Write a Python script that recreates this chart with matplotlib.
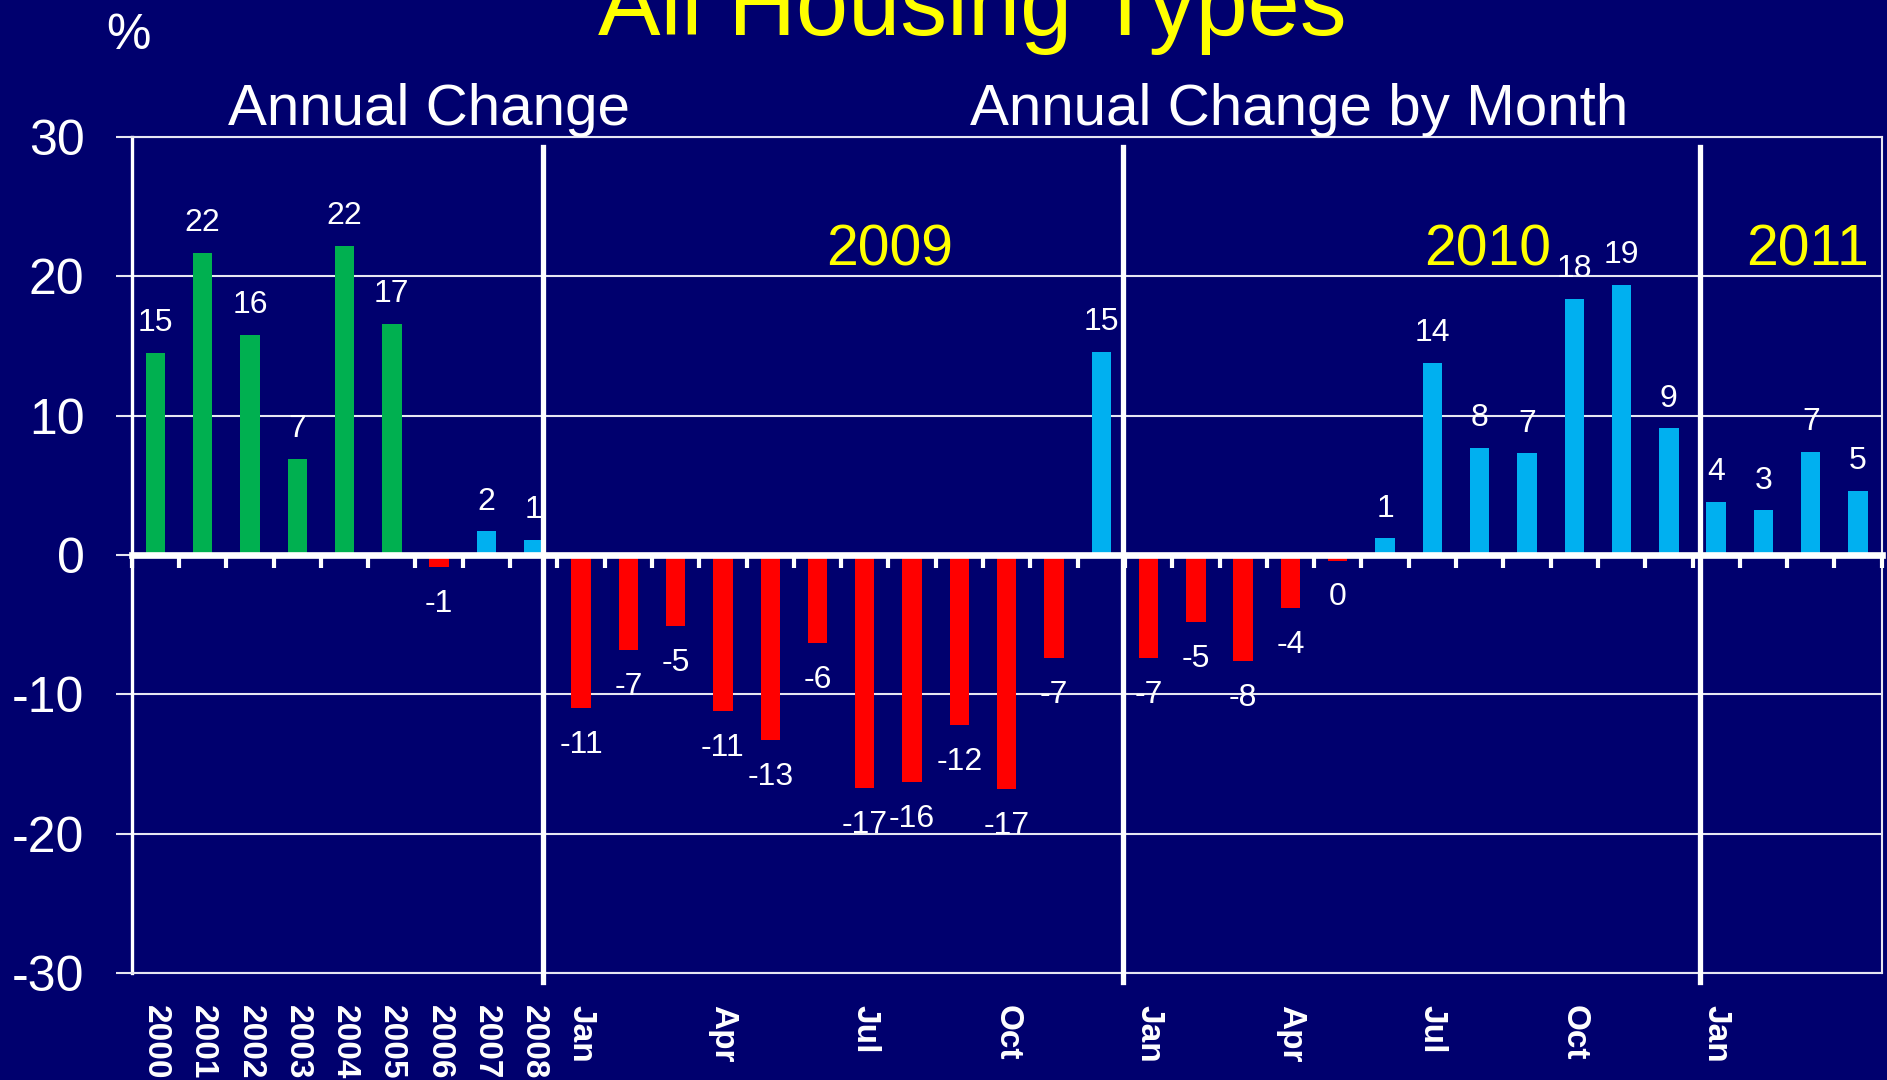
"""
All Housing Types - annual change and annual change by month (%)
"""

import numpy as np
import matplotlib
matplotlib.use('Agg')
import matplotlib.pyplot as plt

## Data
annual_years = ['2000', '2001', '2002', '2003', '2004', '2005', '2006', '2007', '2008']
annual_change = [14.52, 21.7, 15.8, 6.9, 22.2, 16.6, -0.85, 1.7, 1.1]

month_labels = ['Jan', '', '', 'Apr', '', '', 'Jul', '', '', 'Oct', '', '']
month_labels_2011 = ['Jan', '', '', '']
change_2009 = [-11.0, -6.8, -5.1, -11.2, -13.3, -6.3, -16.7, -16.3, -12.2, -16.8, -7.4, 14.6]
change_2010 = [-7.4, -4.8, -7.6, -3.8, -0.4, 1.2, 13.8, 7.7, 7.3, 18.4, 19.4, 9.1]
change_2011 = [3.8, 3.2, 7.4, 4.6]

year_tags = ['2009', '2010', '2011']

## Colours
BG = '#00006e'
GREEN = '#00b050'
BLUE = '#00b0f0'
RED = '#ff0000'
YELLOW = '#ffff00'
GRID = '#e6e6f2'

plt.rcParams['font.family'] = ['Liberation Sans', 'DejaVu Sans']
plt.rcParams['axes.unicode_minus'] = False

values = annual_change + change_2009 + change_2010 + change_2011
labels = annual_years + month_labels + month_labels + month_labels_2011
x = np.arange(len(values))

# green for the boom years, red for falls, blue otherwise
colors = []
for i, v in enumerate(values):
    if v < 0:
        colors.append(RED)
    elif i < 6:
        colors.append(GREEN)
    else:
        colors.append(BLUE)

fig = plt.figure(figsize=(18.87, 10.8), dpi=100, facecolor=BG)
ax = fig.add_axes([0.06979, 0.0992, 0.9274, 0.7739])
ax.set_facecolor(BG)

ax.bar(x, values, width=0.41, color=colors, zorder=2)
ax.set_xlim(-0.5, len(values) - 0.5)
ax.set_ylim(-30, 30)
ax.set_yticks(range(-30, 31, 10))

ax.set_axisbelow(True)
ax.yaxis.grid(True, color=GRID, lw=1.5)

for s in ['top', 'bottom', 'right']:
    ax.spines[s].set_color(GRID)
    ax.spines[s].set_linewidth(1.5)
ax.spines['left'].set_color('white')
ax.spines['left'].set_linewidth(2.4)

ax.tick_params(axis='y', length=11.5, width=1.5, color=GRID, pad=22.5,
               labelsize=36, labelcolor='white')
ax.set_xticks(x)
ax.set_xticklabels(labels, rotation=270, fontsize=24, fontweight='bold', color='white')
ax.tick_params(axis='x', length=0, pad=23)

## zero line with month ticks
zero = ax.secondary_xaxis(0, transform=ax.transData)
zero.set_xticks(np.arange(-0.5, len(values), 1))
zero.tick_params(axis='x', direction='out', length=9, width=3, color='white', labelbottom=False)
zero.spines['bottom'].set_color('white')
zero.spines['bottom'].set_linewidth(4.8)
zero.set_zorder(5)

## value labels
for i, v in enumerate(values):
    txt = str(int(round(v)))
    if v >= 0:
        ax.annotate(txt, (i, v), xytext=(0, 15.5), textcoords='offset points',
                    ha='center', va='baseline', fontsize=23, color='white', zorder=6)
    else:
        ax.annotate(txt, (i, v), xytext=(0, -15.8), textcoords='offset points',
                    ha='center', va='top', fontsize=23, color='white', zorder=6)

## year separators
for xs in [8.19, 20.45, 32.65]:
    ax.axvline(xs, ymin=-0.011, ymax=0.988, color='white', lw=3.8, clip_on=False, zorder=4)

## texts
W, H = 1887, 1080
fig.text(972 / W, 1 - 35 / H, 'All Housing Types', color=YELLOW, fontsize=67.5,
         ha='center', va='baseline')
fig.text(128 / W, 1 - 49 / H, '%', color='white', fontsize=36, ha='center', va='baseline')
fig.text(429.5 / W, 1 - 125 / H, 'Annual Change', color='white', fontsize=42,
         ha='center', va='baseline')
fig.text(1299 / W, 1 - 125 / H, 'Annual Change by Month', color='white', fontsize=42,
         ha='center', va='baseline')
for tag, cx in zip(year_tags, [890, 1488, 1807.5]):
    fig.text(cx / W, 1 - 266 / H, tag, color=YELLOW, fontsize=41, ha='center', va='baseline')

fig.savefig('out.png', dpi=100, facecolor=BG)
plt.close('all')
